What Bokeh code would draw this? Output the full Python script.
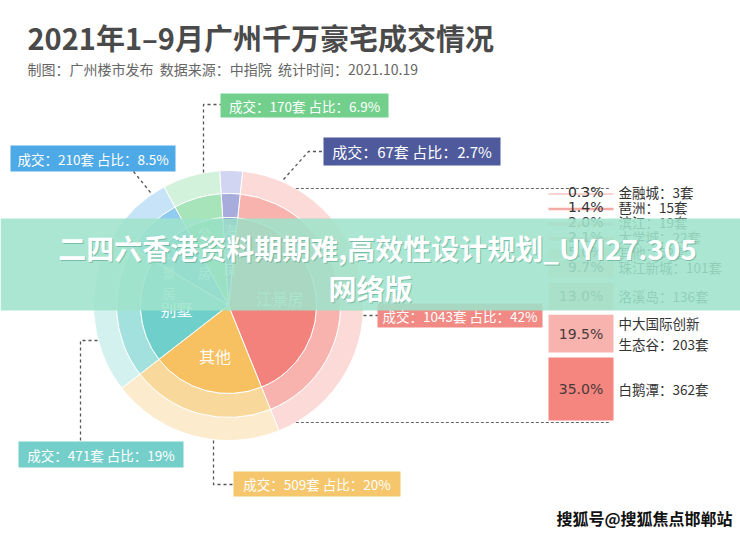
import math
from bokeh.plotting import figure
from bokeh.models import Range1d, ColumnDataSource
from bokeh.embed import file_html
from bokeh.resources import INLINE
from bokeh.core.properties import value

# ---------------- data ----------------
title_text = "2021年1–9月广州千万豪宅成交情况"
subtitle_text = "制图：广州楼市发布\u00a0\u00a0数据来源：中指院\u00a0\u00a0统计时间：2021.10.19"

pie_cats = ["江景房", "海景房", "公园房", "山景房", "别墅", "其他"]
pie_counts = [1043, 67, 170, 210, 471, 509]
pie_shares = ["42%", "2.7%", "6.9%", "8.5%", "19%", "20%"]

bar_names = ["金融城", "琶洲", "滨江", "大学城", "其他", "珠江新城", "洛溪岛", "中大国际创新\n生态谷", "白鹅潭"]
bar_counts = [3, 15, 19, 22, 52, 101, 136, 203, 362]
bar_pcts = [0.3, 1.4, 2.0, 2.1, 5.0, 9.7, 13.0, 19.5, 35.0]

banner_lines = ["二四六香港资料期期难,高效性设计规划_UYI27.305", "网络版"]
corner_mark = "搜狐号@搜狐焦点邯郸站"

# ---------------- styles ----------------
inner_colors = ["#F4827C", "#7F87C7", "#78D596", "#5BB1E6", "#6ECFCB", "#F7C162"]
mid_colors = ["#F8B3AE", "#A7ACDC", "#A8E4BA", "#92CBF0", "#A3E1DE", "#F9D89B"]
outer_colors = ["#FCDAD7", "#D2D5F1", "#D2F2DC", "#C6E3F7", "#D3F1EF", "#FDEBCE"]
box_colors = ["#F18985", "#4E5A9B", "#72D08C", "#4EAAE6", "#74CFCA", "#F5C66C"]
bar_colors = ["#F8D3D0", "#F4A9A4", "#F8C5C2", "#F8C5C2", "#FBDAD7", "#FBDAD7", "#F9C9C5", "#F8B3AE", "#F4857F"]

CJK = value("Noto Sans CJK SC")


def Y(y):
    return 533 - y


p = figure(width=740, height=533, x_range=Range1d(0, 740), y_range=Range1d(0, 533),
           x_axis_type=None, y_axis_type=None, output_backend="svg",
           toolbar_location=None, min_border=0, outline_line_color=None,
           background_fill_color="white", border_fill_color="white")
p.grid.visible = False

# ---------------- title ----------------
p.text(x=[27], y=[Y(36)], text=[title_text], text_font=CJK, text_font_size=value("29px"),
       text_font_style="bold", text_color="#4A4A4A", text_baseline="middle", text_align="left")
p.text(x=[27], y=[Y(68)], text=[subtitle_text], text_font=CJK, text_font_size=value("14px"),
       text_color="#666666", text_baseline="middle", text_align="left")

# ---------------- pie ----------------
cx, cy = 228, Y(305)
R_in, R_mid, R_out = 88, 112, 135
total = float(sum(pie_counts))
a = -math.pi * pie_counts[0] / total + math.radians(8)
starts, ends = [], []
for c in pie_counts:
    starts.append(a)
    a += 2 * math.pi * c / total
    ends.append(a)
src = ColumnDataSource(dict(start=starts, end=ends, inner=inner_colors, mid=mid_colors, outer=outer_colors))
p.annular_wedge(x=cx, y=cy, inner_radius=R_mid, outer_radius=R_out, start_angle="start", end_angle="end",
                fill_color="outer", line_color="white", line_width=1, source=src)
p.annular_wedge(x=cx, y=cy, inner_radius=R_in, outer_radius=R_mid, start_angle="start", end_angle="end",
                fill_color="mid", line_color="white", line_width=1, source=src)
p.wedge(x=cx, y=cy, radius=R_in, start_angle="start", end_angle="end",
        fill_color="inner", line_color="white", line_width=1, source=src)

# wedge labels
for i, name in enumerate(pie_cats):
    mid_a = (starts[i] + ends[i]) / 2
    if pie_counts[i] > 400:
        r = 52
        p.text(x=[cx + r * math.cos(mid_a)], y=[cy + r * math.sin(mid_a)], text=[name], text_font=CJK,
               text_font_size=value("16px"), text_color="white", text_alpha=0.95,
               text_align="center", text_baseline="middle")
    else:
        r = 86
        p.text(x=[cx + r * math.cos(mid_a)], y=[cy + r * math.sin(mid_a)], text=["\n".join(name)],
               text_font=CJK, text_font_size=value("13px"), text_color="white", text_alpha=0.9,
               text_align="center", text_baseline="top", text_line_height=1.05)

# ---------------- callouts ----------------
callout_boxes = {
    "江景房": (377, 303, 542, 327),
    "海景房": (323, 137, 500, 165),
    "公园房": (220, 93, 388, 117),
    "山景房": (10, 145, 175, 171),
    "别墅": (18, 441, 183, 467),
    "其他": (233, 471, 400, 496),
}
callout_paths = {
    "江景房": [(363, 315), (377, 315)],
    "海景房": [(283, 179), (308, 151), (323, 151)],
    "公园房": [(203, 172), (203, 104), (220, 104)],
    "山景房": [(133, 171), (150, 192)],
    "别墅": [(97, 340), (80, 340), (80, 441)],
    "其他": [(213, 440), (213, 484), (233, 484)],
}
callout_font = {"海景房": "15px"}
for i, name in enumerate(pie_cats):
    x0, y0, x1, y1 = callout_boxes[name]
    p.quad(left=[x0], right=[x1], top=[Y(y0)], bottom=[Y(y1)], fill_color=box_colors[i], line_color=None)
    label = "成交：%d套\u00a0占比：%s" % (pie_counts[i], pie_shares[i])
    p.text(x=[(x0 + x1) / 2], y=[Y((y0 + y1) / 2)], text=[label], text_font=CJK,
           text_font_size=value(callout_font.get(name, "13.5px")), text_color="white",
           text_align="center", text_baseline="middle")
    path = callout_paths[name]
    p.line(x=[q[0] for q in path], y=[Y(q[1]) for q in path], line_color="#555555",
           line_width=1.3, line_dash="3 3")

# ---------------- bar of pie (江景房 breakdown) ----------------
bx0, bx1 = 548, 613
n = len(bar_pcts)
tops, bots, centers = [0.0] * n, [0.0] * n, [0.0] * n
bottom = 420.0
small_started = False
prev_c = None
for i in reversed(range(n)):
    pct = bar_pcts[i]
    if pct >= 13:
        h = 1.64 * pct + 5.7
        bots[i], tops[i] = bottom, bottom - h
        centers[i] = bottom - h / 2
        bottom = tops[i] - 5
    else:
        h = max(pct * 1.8, 2.0)
        c = bottom - h / 2 if not small_started else prev_c - 15
        small_started = True
        centers[i], tops[i], bots[i] = c, c - h / 2, c + h / 2
    prev_c = centers[i]

top_line = 188
bot_line = 422
for yy in (top_line, bot_line):
    dy = abs(305 - yy)
    xs = cx + math.sqrt(R_out ** 2 - dy ** 2)
    p.line(x=[xs, 610], y=[Y(yy), Y(yy)], line_color="#666666", line_width=1, line_dash="3 2")

p.quad(left=[bx0] * n, right=[bx1] * n, top=[Y(t) for t in tops], bottom=[Y(b) for b in bots],
       fill_color=bar_colors, line_color=None)

for i in range(n):
    boxed = bar_pcts[i] >= 13
    ty = centers[i] if boxed else centers[i] - 2
    if boxed:
        p.text(x=[(bx0 + bx1) / 2], y=[Y(ty)], text=["%.1f%%" % bar_pcts[i]], text_font=value("DejaVu Sans"),
               text_font_size=value("14px"), text_color="#4A3A3A", text_align="center", text_baseline="middle")
    else:
        p.text(x=[603], y=[Y(ty)], text=["%.1f%%" % bar_pcts[i]], text_font=value("DejaVu Sans"),
               text_font_size=value("14px"), text_color="#333333", text_align="right", text_baseline="middle")
    p.text(x=[618], y=[Y(ty)], text=["%s：%d套" % (bar_names[i], bar_counts[i])], text_font=CJK,
           text_font_size=value("13.5px"), text_color="#333333", text_align="left", text_baseline="middle",
           text_line_height=1.05)

# ---------------- overlay banner & corner mark ----------------
p.quad(left=[0], right=[740], top=[Y(218)], bottom=[Y(310)], fill_color="#9EE3CB", fill_alpha=0.88, line_color=None)
banner_pos = [(377, 247), (370, 287)]
for t, (bxp, byp) in zip(banner_lines, banner_pos):
    p.text(x=[bxp + 1], y=[Y(byp) - 1], text=[t], text_font=CJK, text_font_size=value("28px"),
           text_font_style="bold", text_color="#3D8A70", text_alpha=0.45,
           text_align="center", text_baseline="middle")
    p.text(x=[bxp], y=[Y(byp)], text=[t], text_font=CJK, text_font_size=value("28px"),
           text_font_style="bold", text_color="white", text_align="center", text_baseline="middle")

p.text(x=[732], y=[Y(517)], text=[corner_mark], text_font=CJK, text_font_size=value("16px"),
       text_font_style="bold", text_color="#111111", text_align="right", text_baseline="middle")

open("out.html", "w").write(file_html(p, INLINE))
